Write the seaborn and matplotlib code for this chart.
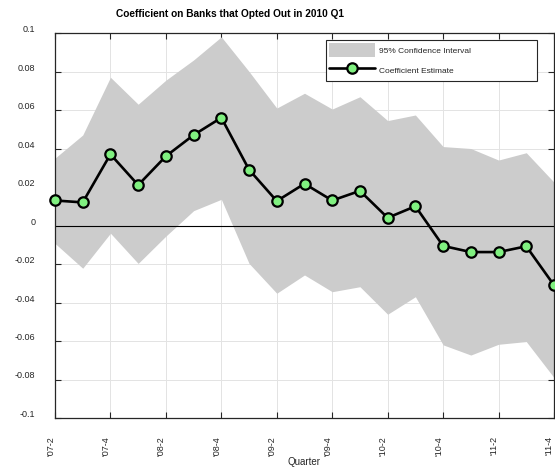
import matplotlib
matplotlib.use("Agg")
import matplotlib.pyplot as plt
from matplotlib.transforms import ScaledTranslation
import numpy as np
import pandas as pd
import seaborn as sns

# Quarters from 2007 Q2 to 2011 Q4
quarters = ["'07-2", "'07-3", "'07-4", "'08-1", "'08-2", "'08-3", "'08-4",
            "'09-1", "'09-2", "'09-3", "'09-4", "'10-1", "'10-2", "'10-3",
            "'10-4", "'11-1", "'11-2", "'11-3", "'11-4"]

# Coefficient estimates
coef = [0.013, 0.012, 0.037, 0.021, 0.036, 0.047, 0.056,
        0.029, 0.0127, 0.0217, 0.013, 0.018, 0.004, 0.010,
        -0.0106, -0.0138, -0.0138, -0.0108, -0.031]

# 95% confidence interval bounds
ci_upper = [0.035, 0.047, 0.077, 0.063, 0.0755, 0.086, 0.098,
            0.080, 0.061, 0.0687, 0.0605, 0.0669, 0.0545, 0.0574,
            0.041, 0.040, 0.034, 0.0378, 0.0225]
ci_lower = [-0.0093, -0.0222, -0.004, -0.0197, -0.0055, 0.0077, 0.0136,
            -0.0197, -0.0352, -0.0257, -0.0344, -0.0318, -0.0461, -0.037,
            -0.062, -0.0673, -0.0617, -0.0603, -0.079]

ytick_values = [0.1, 0.08, 0.06, 0.04, 0.02, 0, -0.02, -0.04, -0.06, -0.08, -0.1]
ytick_labels = ["0.1", "0.08", "0.06", "0.04", "0.02", "0", "-0.02", "-0.04", "-0.06", "-0.08", "-0.1"]

df = pd.DataFrame({"step": np.arange(len(quarters)), "coef": coef,
                   "lo": ci_lower, "hi": ci_upper})

sns.set_theme(style="whitegrid")
plt.rcParams["font.family"] = ["Liberation Sans", "DejaVu Sans"]

fig = plt.figure(figsize=(5.55, 4.68), dpi=100)
ax = fig.add_axes([55 / 555, 1 - 418 / 468, 499 / 555, 385 / 468])

# ----- Confidence band -----
ax.fill_between(df["step"], df["lo"], df["hi"], color="#CCCCCC", linewidth=0,
                label="95% Confidence Interval", zorder=1)
ax.axhline(0, color="black", linewidth=0.8, zorder=2)

# ----- Coefficient estimate -----
sns.lineplot(data=df, x="step", y="coef", ax=ax, color="black", linewidth=1.9,
             marker="o", markersize=7.5, markerfacecolor="#80F080",
             markeredgecolor="black", markeredgewidth=1.6,
             label="Coefficient Estimate", zorder=3, clip_on=False)

ax.set_xlim(0, len(quarters) - 1)
ax.set_ylim(-0.1, 0.1)
ax.set_xticks(df["step"][::2])
ax.set_xticklabels(quarters[::2], rotation=90, fontsize=6.5, color="#262626")
ax.set_yticks(ytick_values)
ax.set_yticklabels(ytick_labels, fontsize=6.5, color="#262626")
ax.set_xlabel("Quarter", fontsize=7, color="#262626", labelpad=1)
ax.set_ylabel("")

ax.grid(True, color="#E3E3E3", linewidth=0.7)
ax.set_axisbelow(True)
for s in ax.spines.values():
    s.set_color("#262626")
    s.set_linewidth(0.9)
ax.tick_params(direction="in", length=4, width=0.8, color="#262626",
               top=True, right=True, bottom=True, left=True)
ax.tick_params(axis="y", pad=14)
ax.tick_params(axis="x", pad=13)

# nudge y labels up and x labels left, like the original export
for lab in ax.get_yticklabels():
    lab.set_transform(lab.get_transform() + ScaledTranslation(0, 0.045, fig.dpi_scale_trans))
for lab in ax.get_xticklabels():
    lab.set_transform(lab.get_transform() + ScaledTranslation(-0.045, 0, fig.dpi_scale_trans))

# legend in the upper right corner, stretched to the original box width
handles, labels = ax.get_legend_handles_labels()
order = [labels.index("95% Confidence Interval"), labels.index("Coefficient Estimate")]
leg = ax.legend([handles[i] for i in order], [labels[i] for i in order],
                loc="upper left",
                bbox_to_anchor=(326 / 555, 1 - 82 / 468, (537 - 326) / 555, 42 / 468),
                bbox_transform=fig.transFigure, mode="expand", fontsize=6,
                frameon=True, fancybox=False, framealpha=1, edgecolor="#262626",
                handlelength=5.5, handleheight=2.2, handletextpad=0.5,
                borderpad=0.4, labelspacing=0.75, borderaxespad=0)
leg.get_frame().set_linewidth(0.8)
for t in leg.get_texts():
    t.set_color("#262626")

fig.text(230 / 555, 1 - 14 / 468, "Coefficient on Banks that Opted Out in 2010 Q1",
         ha="center", va="center", fontsize=7.3, fontweight="bold", color="black")

fig.savefig("out.png", dpi=100)
